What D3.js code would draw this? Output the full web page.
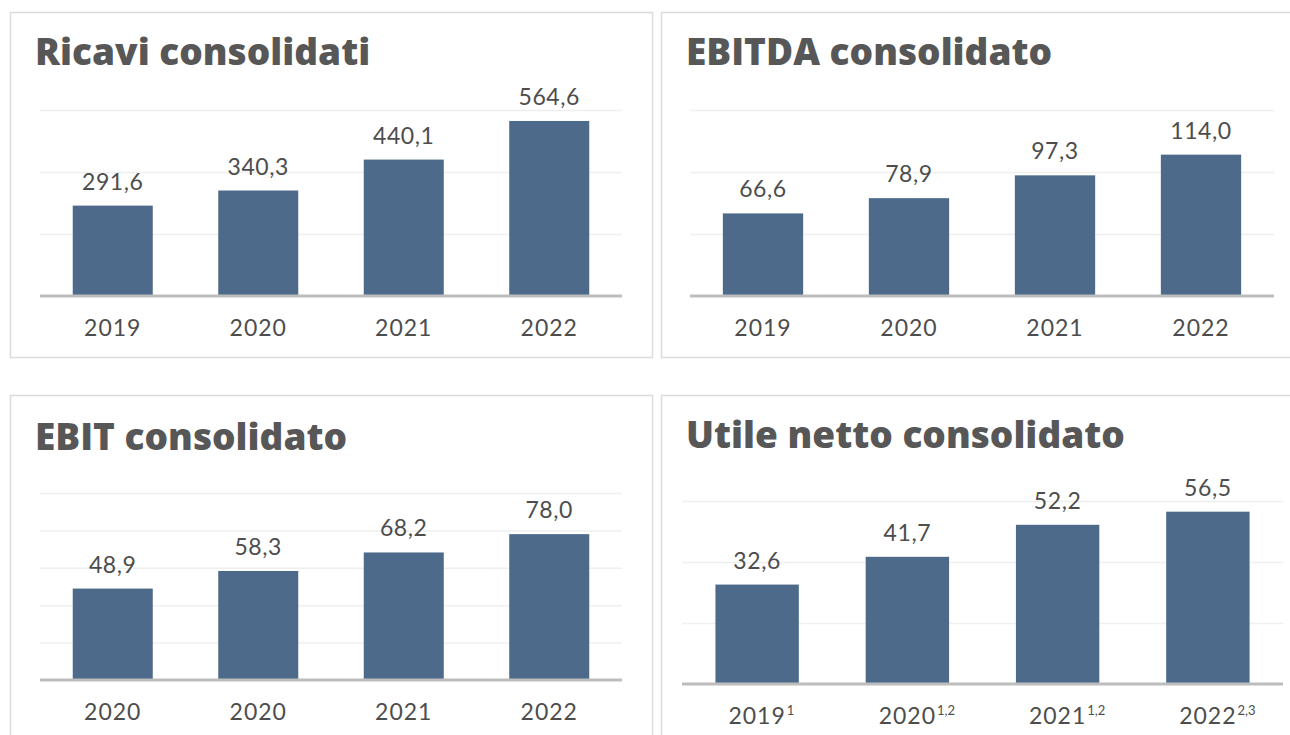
<!DOCTYPE html>
<html>
<head>
<meta charset="utf-8">
<script src="https://cdn.jsdelivr.net/npm/d3@7"></script>
<style>
  body { margin: 0; background: #fff; }
  .title { font-family: 'Open Sans', sans-serif; font-weight: 800; fill: #575757; }
  .lbl { font-family: 'Lato', 'Open Sans', sans-serif; font-weight: 400; fill: #4d4d4d; }
</style>
</head>
<body>
<div class="main"></div>
<script>
// data
var years = ['2019', '2020', '2021', '2022'];
var ebitYears = ['2020', '2020', '2021', '2022'];
var utileNotes = ['1', '1,2', '1,2', '2,3'];

var ricavi = [291.6, 340.3, 440.1, 564.6];
var ebitda = [66.6, 78.9, 97.3, 114.0];
var ebit = [48.9, 58.3, 68.2, 78.0];
var utile = [32.6, 41.7, 52.2, 56.5];

var ricaviTicks = [0, 200, 400, 600];
var ebitdaTicks = [0, 50, 100, 150];
var ebitTicks = [0, 20, 40, 60, 80, 100];
var utileTicks = [0, 20, 40, 60];

var options = { 'width': 1290, 'height': 735 };

var fmt = d3.formatLocale({ decimal: ',', thousands: '.', grouping: [3], currency: ['€', ''] }).format('.1f');

var panels = [
    { title: 'Ricavi consolidati', labels: years, values: ricavi, ticks: ricaviTicks, notes: null,
      box: [10, 12, 642, 345], tx: 35, ty: 65, x0: 40, x1: 622, yTop: 110, yBase: 296, pad: 0.45 },
    { title: 'EBITDA consolidato', labels: years, values: ebitda, ticks: ebitdaTicks, notes: null,
      box: [661, 12, 640, 345], tx: 686, ty: 65, x0: 690, x1: 1274, yTop: 110, yBase: 296, pad: 0.45 },
    { title: 'EBIT consolidato', labels: ebitYears, values: ebit, ticks: ebitTicks, notes: null,
      box: [10, 395, 642, 360], tx: 35, ty: 450, x0: 40, x1: 622, yTop: 493, yBase: 680, pad: 0.45 },
    { title: 'Utile netto consolidato', labels: years, values: utile, ticks: utileTicks, notes: utileNotes,
      box: [661, 395, 640, 360], tx: 686, ty: 448, x0: 682, x1: 1283, yTop: 501, yBase: 684, pad: 0.445 }
];

var svg = d3.select('.main')
    .append('svg')
    .attr('width', options.width)
    .attr('height', options.height);

panels.forEach(function (p) {
    var g = svg.append('g');

    g.append('rect')
        .attr('x', p.box[0] + 0.5)
        .attr('y', p.box[1] + 0.5)
        .attr('width', p.box[2])
        .attr('height', p.box[3])
        .style('fill', 'none')
        .style('stroke', '#dcdcdc')
        .style('stroke-width', '1.5px');

    g.append('text')
        .attr('class', 'title')
        .attr('x', p.tx)
        .attr('y', p.ty)
        .style('font-size', '37px')
        .text(p.title);

    var x = d3.scaleBand()
        .domain(d3.range(p.values.length))
        .range([p.x0, p.x1])
        .paddingInner(p.pad)
        .paddingOuter(p.pad / 2);

    var y = d3.scaleLinear()
        .domain([0, d3.max(p.ticks)])
        .range([p.yBase, p.yTop]);

    // gridlines
    var grid = g.append('g')
        .attr('transform', 'translate(' + p.x0 + ',0)')
        .call(d3.axisLeft(y).tickValues(p.ticks.slice(1)).tickSize(-(p.x1 - p.x0)).tickFormat(''));
    grid.select('.domain').remove();
    grid.selectAll('line').style('stroke', '#efefef').style('stroke-width', '1.5px');

    g.selectAll('.bar')
        .data(p.values)
        .enter()
        .append('rect')
        .attr('class', 'bar')
        .attr('x', function (d, i) { return x(i); })
        .attr('y', function (d) { return y(d); })
        .attr('width', x.bandwidth())
        .attr('height', function (d) { return p.yBase - y(d); })
        .style('fill', '#4d6a8a');

    g.selectAll('.value')
        .data(p.values)
        .enter()
        .append('text')
        .attr('class', 'lbl value')
        .attr('x', function (d, i) { return x(i) + x.bandwidth() / 2; })
        .attr('y', function (d) { return y(d) - 16; })
        .attr('text-anchor', 'middle')
        .style('font-size', '23px')
        .style('letter-spacing', '0.6px')
        .text(function (d) { return fmt(d); });

    // x axis
    var ax = g.append('g')
        .attr('transform', 'translate(0,' + p.yBase + ')')
        .call(d3.axisBottom(x).tickSize(0).tickPadding(24).tickFormat(function (i) { return p.labels[i]; }));
    ax.select('.domain')
        .attr('d', 'M' + p.x0 + ',0H' + p.x1)
        .style('stroke', '#bdbdbd')
        .style('stroke-width', '3px');
    ax.selectAll('.tick text')
        .attr('class', 'lbl')
        .attr('dy', '0.71em')
        .style('font-size', '23px')
        .style('letter-spacing', '1px');

    if (p.notes) {
        ax.selectAll('.tick').each(function (i) {
            var t = d3.select(this).select('text');
            var w = t.node().getComputedTextLength();
            d3.select(this).append('text')
                .attr('class', 'lbl')
                .attr('x', w / 2 + 1)
                .attr('y', 22)
                .attr('dy', '0.71em')
                .attr('text-anchor', 'start')
                .style('font-size', '13px')
                .text(p.notes[i]);
        });
    }
});
</script>
</body>
</html>
